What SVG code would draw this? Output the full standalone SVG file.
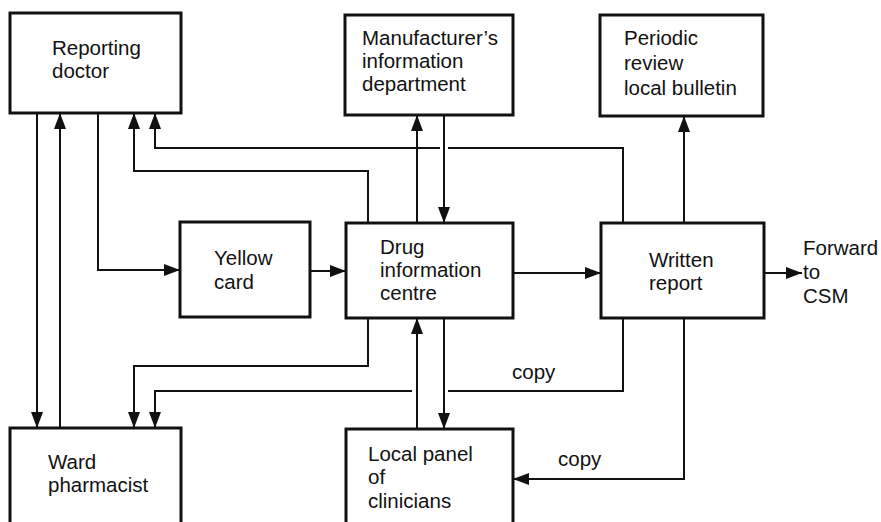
<svg xmlns="http://www.w3.org/2000/svg" width="881" height="522" viewBox="0 0 881 522">
<defs>
<style>
.box{fill:#fff;stroke:#111;stroke-width:3}
.t{font-family:"Liberation Sans",Arial,sans-serif;font-size:20.5px;fill:#111}
.c{fill:none;stroke:#111;stroke-width:2}
</style>
<marker id="ah" viewBox="0 0 16 12" refX="16" refY="6" markerWidth="16" markerHeight="12" markerUnits="userSpaceOnUse" orient="auto">
<path d="M0,0 L16,6 L0,12 Z" fill="#111"/>
</marker>
</defs>
<rect width="881" height="522" fill="#fff"/>
<g id="connectors">
<path class="c" d="M37,113 V428" marker-end="url(#ah)"/>
<path class="c" d="M60,428 V113" marker-end="url(#ah)"/>
<path class="c" d="M98,113 V270 H180" marker-end="url(#ah)"/>
<path class="c" d="M368,223 V171 H134 V113" marker-end="url(#ah)"/>
<path class="c" d="M623,223 V148 H448"/>
<path class="c" d="M440,148 H155 V113" marker-end="url(#ah)"/>
<path class="c" d="M417,223 V115" marker-end="url(#ah)"/>
<path class="c" d="M444,115 V223" marker-end="url(#ah)"/>
<path class="c" d="M684,223 V116" marker-end="url(#ah)"/>
<path class="c" d="M310,271 H346" marker-end="url(#ah)"/>
<path class="c" d="M513,273 H601" marker-end="url(#ah)"/>
<path class="c" d="M764,273 H802" marker-end="url(#ah)"/>
<path class="c" d="M368,318 V366 H134 V428" marker-end="url(#ah)"/>
<path class="c" d="M623,318 V391 H448"/>
<path class="c" d="M412,391 H155 V428" marker-end="url(#ah)"/>
<path class="c" d="M417,429 V318" marker-end="url(#ah)"/>
<path class="c" d="M444,318 V429" marker-end="url(#ah)"/>
<path class="c" d="M684,318 V479 H513" marker-end="url(#ah)"/>
<text class="t" x="512" y="379">copy</text>
<text class="t" x="558" y="466">copy</text>
<text class="t" x="803" y="255">Forward</text>
<text class="t" x="803" y="279">to</text>
<text class="t" x="803" y="303">CSM</text>
</g>
<g id="reporting-doctor">
<rect class="box" x="10" y="13" width="171" height="100"/>
<text class="t" x="52" y="55">Reporting</text>
<text class="t" x="52" y="78">doctor</text>
</g>
<g id="manufacturer">
<rect class="box" x="345" y="15" width="168" height="100"/>
<text class="t" x="362" y="45">Manufacturer’s</text>
<text class="t" x="362" y="68">information</text>
<text class="t" x="362" y="91">department</text>
</g>
<g id="periodic-review">
<rect class="box" x="600" y="15" width="163" height="101"/>
<text class="t" x="624" y="45">Periodic</text>
<text class="t" x="624" y="70">review</text>
<text class="t" x="624" y="95">local bulletin</text>
</g>
<g id="yellow-card">
<rect class="box" x="180" y="222" width="130" height="95"/>
<text class="t" x="214" y="265">Yellow</text>
<text class="t" x="214" y="289">card</text>
</g>
<g id="drug-information-centre">
<rect class="box" x="346" y="223" width="167" height="95"/>
<text class="t" x="380" y="254">Drug</text>
<text class="t" x="380" y="277">information</text>
<text class="t" x="380" y="300">centre</text>
</g>
<g id="written-report">
<rect class="box" x="601" y="223" width="163" height="95"/>
<text class="t" x="649" y="267">Written</text>
<text class="t" x="649" y="290">report</text>
</g>
<g id="ward-pharmacist">
<rect class="box" x="10" y="428" width="171" height="110"/>
<text class="t" x="48" y="469">Ward</text>
<text class="t" x="48" y="492">pharmacist</text>
</g>
<g id="local-panel">
<rect class="box" x="346" y="429" width="167" height="110"/>
<text class="t" x="368" y="461">Local panel</text>
<text class="t" x="368" y="484">of</text>
<text class="t" x="368" y="508">clinicians</text>
</g>
</svg>
